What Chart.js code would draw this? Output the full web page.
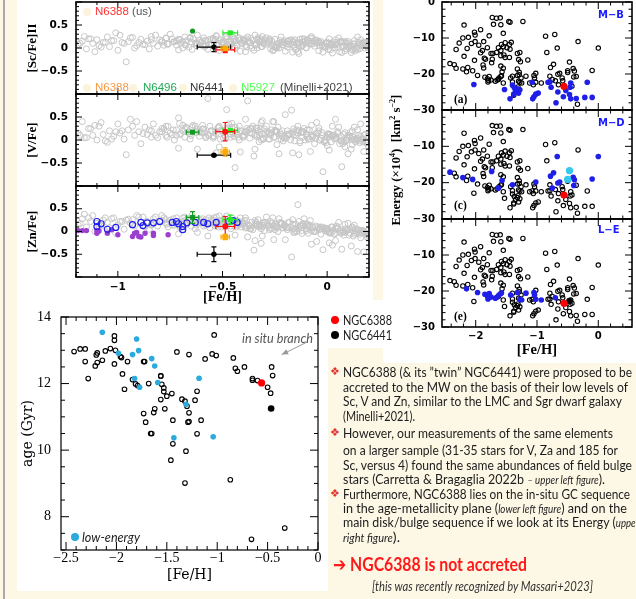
<!DOCTYPE html>
<html>
<head>
<meta charset="utf-8">
<title>NGC6388</title>
<script src="https://cdn.jsdelivr.net/npm/chart.js@4.4.1/dist/chart.umd.min.js"></script>
<style>
  body { margin: 0; width: 636px; height: 599px; background: #fdf7e6; position: relative; overflow: hidden; }
  canvas { position: absolute; }
  .box { position: absolute; background: #fff; }
  .t { position: absolute; white-space: nowrap; }
  .ln { position: absolute; white-space: nowrap; font-family: Lato, sans-serif; font-size: 13.5px; color: #1c1c1c; line-height: 16px; transform-origin: 0 50%; }
  .ln i { font-size: 10.5px; }
  .bul { position: absolute; color: #e2332b; font-family: 'DejaVu Sans'; font-size: 11px; line-height: 16px; }
  .dot { position: absolute; border-radius: 50%; }
  sup { font-size: 8px; line-height: 0; }
</style>
</head>
<body>
<div style="position:absolute;left:3px;top:0;width:2px;height:599px;background:#a9a9a9"></div>
<div class="box" style="left:17px;top:0;width:356px;height:306px"></div>
<div class="box" style="left:383px;top:0;width:253px;height:363px"></div>
<div class="box" style="left:17px;top:306px;width:311px;height:285px"></div>
<div class="box" style="left:328px;top:300px;width:62px;height:48px"></div>

<canvas id="cSc"></canvas>
<canvas id="cV"></canvas>
<canvas id="cZn"></canvas>
<canvas id="cMB"></canvas>
<canvas id="cMD"></canvas>
<canvas id="cLE"></canvas>
<canvas id="cAge"></canvas>

<div class="dot" style="left:83px;top:8px;width:8px;height:8px;background:#fbf3dc"></div>
<div class="dot" style="left:83px;top:84px;width:8px;height:8px;background:#fbf3dc"></div>
<div class="dot" style="left:129px;top:84px;width:8px;height:8px;background:#fbf3dc"></div>
<div class="dot" style="left:179px;top:84px;width:8px;height:8px;background:#fbf3dc"></div>
<div class="dot" style="left:229px;top:84px;width:8px;height:8px;background:#fbf3dc"></div>
<div class="t" style="left:95px;top:5px;font:11.5px 'Liberation Sans';color:#555"><span style="color:#ff3333">N6388</span> (us)</div>
<div class="t" style="left:95px;top:81px;font:11.5px 'Liberation Sans';color:#f59a45">N6388</div>
<div class="t" style="left:143px;top:81px;font:11.5px 'Liberation Sans';color:#22aa55">N6496</div>
<div class="t" style="left:190px;top:81px;font:11.5px 'Liberation Sans';color:#333">N6441</div>
<div class="t" style="left:241px;top:81px;font:11.5px 'Liberation Sans';color:#55ff55">N5927</div>
<div class="t" style="left:280px;top:81px;font:11.5px 'Liberation Sans';color:#444">(Minelli+2021)</div>

<div class="t" style="left:396px;top:160px;transform:translate(-50%,-50%) rotate(-90deg);font:bold 13px 'Liberation Serif';color:#000">Energy (×10<sup>4</sup>)&nbsp; [km<sup>2</sup> s<sup>−2</sup>]</div>
<div class="t" style="left:598px;top:9px;font:bold 10px 'DejaVu Sans';color:#1a1aff">M−B</div>
<div class="t" style="left:598px;top:117px;font:bold 10px 'DejaVu Sans';color:#1a1aff">M−D</div>
<div class="t" style="left:598px;top:224px;font:bold 10px 'DejaVu Sans';color:#1a1aff">L−E</div>
<div class="t" style="left:454px;top:93px;font:bold 11.5px 'Liberation Serif';color:#000">(a)</div>
<div class="t" style="left:454px;top:199px;font:bold 11.5px 'Liberation Serif';color:#000">(c)</div>
<div class="t" style="left:454px;top:310px;font:bold 11.5px 'Liberation Serif';color:#000">(e)</div>

<div class="t ln" data-w="71" style="left:242px;top:330px;font-style:italic;font-size:13px;color:#555">in situ branch</div>
<div class="dot" style="left:71px;top:533px;width:8px;height:8px;background:#2aaadd"></div>
<div class="t ln" data-w="58" style="left:82px;top:529px;font-style:italic;font-size:13px;color:#222">low-energy</div>
<div class="dot" style="left:331px;top:316px;width:8px;height:8px;background:#ff0000"></div>
<div class="t ln" data-w="49" style="left:343px;top:312px;font-size:13px">NGC6388</div>
<div class="dot" style="left:331px;top:331px;width:8px;height:8px;background:#000"></div>
<div class="t ln" data-w="49" style="left:343px;top:327px;font-size:13px">NGC6441</div>

<div class="bul" style="left:330px;top:364px">❖</div>
<div class="bul" style="left:330px;top:424.5px">❖</div>
<div class="bul" style="left:330px;top:485.5px">❖</div>
<div class="ln" data-w="289" style="left:343px;top:364px">NGC6388 (&amp; its ”twin” NGC6441) were proposed to be</div>
<div class="ln" data-w="285" style="left:343px;top:378.5px">accreted to the MW on the basis of their low levels of</div>
<div class="ln" data-w="279" style="left:343px;top:393px">Sc, V and Zn, similar to the LMC and Sgr dwarf galaxy</div>
<div class="ln" data-w="72" style="left:343px;top:407.5px">(Minelli+2021).</div>
<div class="ln" data-w="270" style="left:343px;top:424.5px">However, our measurements of the same elements</div>
<div class="ln" data-w="275" style="left:343px;top:442px">on a larger sample (31-35 stars for V, Za and 185 for</div>
<div class="ln" data-w="289" style="left:343px;top:457px">Sc, versus 4) found the same abundances of field bulge</div>
<div class="ln" data-w="262" style="left:343px;top:471px">stars (Carretta &amp; Bragaglia 2022b <i>– upper left figure</i>).</div>
<div class="ln" data-w="287" style="left:343px;top:485.5px">Furthermore, NGC6388 lies on the in-situ GC sequence</div>
<div class="ln" data-w="284" style="left:343px;top:500px">in the age-metallicity plane (<i>lower left figure</i>) and on the</div>
<div class="ln" data-w="296" style="left:343px;top:514px">main disk/bulge sequence if we look at its Energy (<i>upper</i></div>
<div class="ln" data-w="57" style="left:343px;top:529px"><i>right figure</i>).</div>
<div class="ln" data-w="194" style="left:333px;top:552px;font-size:19px;line-height:24px;font-weight:bold;color:#ff1a1a"><span style="font-family:'DejaVu Sans'">➔</span> NGC6388 is not accreted</div>
<div class="ln" data-w="221" style="left:372px;top:579px;font-size:12.5px;font-style:italic;color:#333">[this was recently recognized by Massari+2023]</div>

<script>
// ---- field bulge stars (grey), shared [Fe/H] ----
var fieldFeh = [
  -1.19,-1.17,-1.15,-1.13,-1.12,-1.10,-1.09,-1.07,-1.05,-1.04,-1.02,-1.00,-0.99,-0.97,-0.95,-0.94,-0.92,-0.90,-0.89,-0.87,
  -0.86,-0.84,-0.83,-0.81,-0.80,-0.79,-0.77,-0.76,-0.75,-0.73,-0.72,-0.71,-0.70,-0.68,-0.67,-0.66,-0.65,-0.64,-0.62,-0.61,
  -0.60,-0.59,-0.58,-0.57,-0.56,-0.55,-0.54,-0.53,-0.52,-0.51,-0.50,-0.49,-0.48,-0.47,-0.46,-0.45,-0.44,-0.43,-0.42,-0.41,
  -0.40,-0.39,-0.385,-0.37,-0.36,-0.355,-0.34,-0.33,-0.325,-0.31,-0.30,-0.295,-0.28,-0.27,-0.265,-0.25,-0.24,-0.235,-0.22,-0.21,
  -0.205,-0.19,-0.18,-0.175,-0.16,-0.15,-0.145,-0.13,-0.12,-0.115,-0.10,-0.09,-0.085,-0.07,-0.06,-0.055,-0.04,-0.03,-0.025,-0.01,
  0.00,0.005,0.02,0.03,0.035,0.05,0.06,0.065,0.08,0.09,0.095,0.11,0.12,0.125,0.14,0.15,0.155,0.17,0.18,0.19,
  -0.78,-0.74,-0.69,-0.63,-0.585,-0.545,-0.505,-0.465,-0.425,-0.395,-0.365,-0.335,-0.305,-0.275,-0.245,-0.215,-0.185,-0.155,-0.125,-0.095,
  -0.065,-0.035,-0.005,0.015,0.045,0.075,0.105,0.135,0.165,0.195,-0.48,-0.38,-0.29,-0.20,-0.11,-0.02,0.07,0.16,-0.57,-0.35,
  -0.44,-0.26,-0.14,-0.08,0.04,0.10,-0.53,-0.31,-0.17,0.01,0.13,-0.62,-0.23,-0.05,0.085,-0.39,-0.135,0.025,0.175,-0.71,
  -1.16,-1.11,-1.06,-1.01,-0.96,-0.91,-0.85,-0.82,-0.645,-0.515,-0.455,-0.345,-0.255,-0.165,-0.075,0.055,0.115,0.145,-0.415,-0.315,
  -0.79,-0.765,-0.735,-0.705,-0.675,-0.655,-0.625,-0.595,-0.565,-0.535,-0.495,-0.475,-0.435,-0.405,-0.375,-0.345,-0.315,-0.285,-0.255,-0.225,
  -0.195,-0.165,-0.135,-0.105,-0.075,-0.045,-0.015,0.01,0.04,0.07,0.10,0.13,0.16,0.185,-0.77,-0.72,-0.68,-0.61,-0.58,-0.52,
  -0.46,-0.43,-0.40,-0.37,-0.34,-0.31,-0.28,-0.25,-0.22,-0.19,-0.16,-0.13,-0.10,-0.07,-0.04,-0.01,0.02,0.05,0.08,0.11,
  0.14,0.17,0.195,-0.555,-0.515,-0.445,-0.385,-0.325,-0.265,-0.205,-0.145,-0.085,-0.025,0.035,0.095,0.155,-0.655,-0.595,-0.485,-0.365,
  -0.305,-0.245,-0.185,-0.115,-0.055,0.005,0.065,0.125,0.175,-0.705,-0.625,-0.545,-0.455,-0.395,-0.335,-0.275,-0.215,-0.155,-0.095,-0.035,
  0.025,0.085,0.145,0.19,-1.18,-1.14,-1.08,-1.03,-0.98,-0.93,-0.88,-0.84,-0.69,-0.50,-0.42,-0.32,-0.24,-0.12,0.00,0.12
];
var fieldSc = [
  0.08,0.15,-0.02,0.20,0.10,0.18,0.05,0.12,0.24,0.03,0.16,-0.05,0.28,0.10,0.14,0.22,0.00,0.12,0.19,0.07,
  0.15,0.25,0.10,0.04,0.18,0.13,0.21,0.08,0.30,0.14,0.06,0.19,0.11,0.24,0.16,0.02,0.13,0.20,0.09,0.17,
  0.12,0.22,0.05,0.16,0.19,0.09,0.14,0.25,0.07,0.18,0.11,0.02,0.20,0.13,0.08,0.23,0.15,0.04,0.17,0.10,
  0.14,0.06,0.20,0.11,0.00,0.16,0.09,0.22,0.13,0.03,0.18,0.08,0.12,-0.02,0.15,0.19,0.05,0.10,0.24,0.07,
  0.12,0.02,0.17,0.08,0.14,-0.04,0.10,0.19,0.05,0.13,0.00,0.16,0.09,0.21,0.04,0.11,-0.06,0.14,0.07,0.02,
  0.10,-0.03,0.06,0.13,0.01,0.08,-0.08,0.15,0.04,-0.01,0.11,0.05,-0.05,0.09,0.02,0.12,-0.02,0.06,0.00,0.08,
  0.06,0.20,0.14,0.10,0.03,0.18,0.12,0.07,0.21,0.15,0.05,0.19,0.10,0.16,0.01,0.13,0.08,0.18,0.03,0.11,
  0.15,0.04,0.10,-0.04,0.12,0.03,0.07,-0.06,0.10,0.01,0.26,0.24,0.22,-0.07,0.20,-0.09,-0.10,0.18,-0.03,-0.05,
  0.00,-0.06,-0.08,0.22,0.18,0.14,0.27,0.25,0.18,0.20,0.16,0.28,0.00,0.17,-0.06,-0.08,-0.12,-0.11,0.13,-0.04,
  0.25,-0.08,0.12,0.33,-0.30,0.05,-0.02,0.28,-0.03,-0.05,0.30,0.28,-0.04,-0.09,0.25,0.22,-0.10,0.24,-0.07,0.03,
  0.16,0.09,0.13,0.18,0.06,0.21,0.11,0.15,0.08,0.19,0.13,0.05,0.17,0.10,0.14,0.07,0.20,0.12,0.03,0.16,
  0.09,0.13,0.05,0.15,0.08,0.12,0.02,0.10,0.07,0.13,0.03,0.09,0.05,0.11,0.22,0.15,0.07,0.12,0.17,0.10,
  0.15,0.07,0.19,0.12,0.06,0.14,0.17,0.04,0.11,0.15,0.06,0.12,0.01,0.09,0.14,0.04,0.10,0.01,0.12,0.04,
  -0.01,0.07,0.04,0.09,0.16,0.20,0.02,0.17,0.05,0.16,0.11,0.14,0.06,0.07,0.03,0.09,0.23,0.05,0.24,0.21,
  0.10,0.02,0.15,0.06,0.16,0.04,0.13,-0.03,0.10,0.18,0.05,0.21,0.02,0.18,0.00,0.20,0.07,0.01,0.18,0.11,
  0.08,0.14,-0.03,0.06,0.10,0.20,0.02,0.16,0.12,0.23,0.08,0.18,0.00,0.06,0.22,0.14,0.00,0.20,0.13,0.04
];
var fieldV = [
  0.15,0.40,0.05,0.25,0.10,0.00,0.30,0.12,-0.05,0.20,0.08,0.35,0.15,0.02,0.22,0.45,0.10,0.18,-0.08,0.28,
  0.12,0.20,0.35,0.05,0.18,0.25,0.10,0.30,0.15,0.00,0.22,0.48,0.14,0.06,0.26,0.18,0.10,0.32,0.20,0.08,
  0.16,0.24,0.05,0.12,0.30,0.20,0.08,0.14,0.26,0.02,0.18,0.10,0.22,0.35,0.06,0.15,0.28,0.12,0.00,0.20,
  0.10,0.18,0.25,0.04,0.14,0.30,0.08,0.20,-0.04,0.12,0.24,0.16,0.02,0.10,0.22,0.06,0.18,0.28,0.12,-0.02,
  0.08,0.20,0.14,0.00,0.24,0.10,0.16,-0.06,0.06,0.18,0.12,0.02,0.22,0.08,-0.08,0.14,0.26,0.04,0.10,-0.02,
  0.06,0.14,-0.04,0.10,0.02,0.18,-0.08,0.08,0.12,-0.02,0.04,0.16,-0.10,0.06,0.00,0.10,-0.06,0.02,0.12,-0.04,
  0.25,0.12,0.20,0.30,0.16,0.08,0.22,0.14,0.06,0.18,0.26,0.10,0.02,0.15,0.20,0.08,0.12,-0.02,0.16,0.06,
  0.10,0.00,-0.06,0.12,0.04,-0.08,0.08,-0.04,0.02,-0.12,0.66,0.85,0.30,0.55,0.25,-0.69,-0.58,0.35,0.90,-0.35,
  -0.60,0.40,0.30,-0.25,0.45,-0.30,-0.28,0.42,0.65,-0.22,0.28,-0.20,-0.30,0.38,-0.15,0.45,-0.32,0.30,-0.25,-0.18,
  0.05,0.32,-0.02,0.18,-0.32,0.40,0.22,0.10,0.28,-0.15,0.36,-0.20,0.40,-0.28,0.32,0.28,-0.20,0.22,-0.26,0.38,
  0.18,0.06,0.22,0.12,0.28,0.02,0.16,0.24,0.10,0.20,0.04,0.26,0.14,0.08,0.22,0.12,0.00,0.18,0.06,0.16,
  0.04,0.14,0.20,0.00,0.10,0.16,-0.04,0.12,0.06,-0.02,0.10,0.02,0.08,-0.06,0.30,0.10,0.24,0.18,0.08,0.28,
  0.12,0.22,0.06,0.16,0.26,0.04,0.14,0.20,0.02,0.12,0.18,-0.02,0.14,0.06,0.20,0.00,0.08,0.14,-0.04,0.06,
  0.02,-0.04,0.08,0.20,0.30,0.08,0.18,0.10,0.16,0.04,0.22,0.02,0.16,0.10,0.00,-0.02,0.14,0.32,0.06,0.24,
  0.02,0.20,0.10,0.18,0.04,0.12,-0.02,0.00,0.10,0.36,0.24,0.04,0.28,0.10,0.26,0.02,0.20,0.12,0.22,0.00,
  0.10,0.16,0.04,-0.06,0.10,0.25,0.38,0.02,0.20,0.30,0.14,0.06,0.32,0.20,0.30,0.24,-0.10,0.18,-0.12,0.20
];
var fieldZn = [
  0.15,0.28,0.10,0.22,0.35,0.18,0.12,0.25,0.20,0.08,0.30,0.15,0.22,0.05,0.27,0.18,0.12,0.32,0.20,0.10,
  0.22,0.15,0.28,0.12,0.20,0.35,0.18,0.10,0.25,0.14,0.30,0.20,0.08,0.24,0.16,0.28,0.12,0.22,0.18,0.26,
  0.20,0.12,0.26,0.18,0.08,0.22,0.30,0.15,0.10,0.24,0.18,0.28,0.12,0.20,0.06,0.16,0.25,0.14,0.22,0.10,
  0.18,0.08,0.24,0.12,0.20,0.04,0.16,0.26,0.10,0.14,0.02,0.20,0.12,0.22,0.06,0.16,0.10,0.00,0.18,0.08,
  0.14,0.04,0.20,0.10,-0.02,0.16,0.08,0.12,0.02,0.18,0.06,-0.04,0.14,0.08,0.00,0.12,0.04,-0.06,0.10,0.02,
  0.06,-0.02,0.10,0.02,-0.06,0.08,0.00,0.04,-0.08,0.06,0.02,-0.04,0.08,-0.10,0.00,0.04,-0.06,0.02,-0.02,-0.12,
  0.30,0.14,0.22,0.06,0.18,0.26,0.10,0.20,0.14,0.24,0.06,0.12,0.18,0.04,0.16,0.08,0.20,0.02,0.12,0.16,
  0.00,0.10,0.06,-0.04,0.12,0.00,-0.08,0.06,-0.02,0.02,0.34,-0.12,0.32,-0.18,0.28,-0.40,-0.39,-0.14,-0.10,-0.41,
  -0.08,0.30,0.59,0.24,-0.20,0.18,0.32,-0.10,-0.56,-0.25,0.14,-0.02,0.28,-0.22,0.16,0.30,0.22,-0.30,-0.45,-0.05,
  0.38,0.00,0.30,-0.04,0.25,0.35,0.05,0.32,0.36,0.34,0.30,-0.20,-0.18,0.26,-0.28,0.20,-0.32,-0.44,0.30,-0.26,
  0.24,0.16,0.28,0.10,0.20,0.26,0.14,0.22,0.30,0.12,0.18,0.24,0.10,0.20,0.14,0.24,0.06,0.18,0.12,0.20,
  0.08,0.16,0.06,0.12,0.02,0.10,0.06,0.00,0.08,-0.02,0.04,-0.06,0.02,-0.04,0.26,0.18,0.32,0.20,0.14,0.22,
  0.12,0.22,0.16,0.06,0.20,0.10,0.14,0.04,0.16,0.10,0.06,0.12,0.02,0.10,0.04,0.08,-0.02,0.06,0.00,0.04,
  -0.04,0.02,-0.08,0.26,0.16,0.20,0.08,0.14,0.18,0.12,0.00,0.10,0.06,-0.04,0.02,-0.02,0.22,0.28,0.16,0.06,
  0.20,0.12,0.08,0.14,0.00,0.06,-0.04,0.02,0.00,0.14,0.26,0.18,0.22,0.12,0.16,0.08,0.18,-0.02,0.12,0.06,
  0.10,-0.02,0.04,-0.08,0.18,0.30,0.12,0.28,0.22,0.26,0.32,0.14,0.30,0.24,0.16,0.14,0.08,-0.04,0.02,0.10
];
// LMC-like (blue open) and Sgr-like (purple) Zn
var lmcFeh = [-1.10,-1.10,-1.08,-1.05,-1.01,-0.93,-0.89,-0.88,-0.86,-0.83,-0.80,-0.74,-0.72,-0.71,-0.69,-0.69,-0.67,-0.63,-0.59,-0.57,-0.53,-0.47,-0.45,-0.43];
var lmcZn = [0.22,0.11,0.17,0.05,0.09,0.15,0.20,0.13,0.19,0.19,0.22,0.20,0.22,0.17,0.11,0.04,0.19,0.20,0.20,0.17,0.20,0.22,0.24,0.20];
var sgrFeh = [-1.19,-1.17,-1.15,-1.10,-1.10,-1.09,-1.05,-1.03,-1.00,-0.93,-0.92,-0.91,-0.90,-0.89,-0.87,-0.83,-0.83,-0.76];
var sgrZn = [0.02,0.02,0.02,0.02,-0.04,0.01,-0.04,0.04,-0.07,-0.11,-0.04,-0.02,-0.11,-0.12,-0.04,-0.04,-0.09,-0.07];

// clusters: N6496, N5927, N6441, N6388 (Minelli+2021), N6388 (us)
var clNames = ['N6496', 'N5927', 'N6441', 'N6388 M21', 'N6388 us'];
var clColors = ['#119922', '#22ee22', '#000000', '#ffaa00', '#ff1111'];
var clFeh = [-0.643, -0.463, -0.541, -0.487, -0.487];
var clXerr = [0.03, 0.035, 0.08, 0.02, 0.045];
var scCl = [0.37, 0.33, 0.02, -0.01, -0.04];
var scErr = [0, 0.02, 0.10, 0.03, 0.06];
var vCl = [0.17, 0.21, -0.33, -0.26, 0.18];
var vErr = [0.03, 0.03, 0.02, 0.09, 0.20];
var znCl = [0.31, 0.26, -0.50, -0.12, 0.11];
var znErr = [0.13, 0.10, 0.16, 0.06, 0.22];
var abTicksX = [-1, -0.5, 0];
var abTicksY = [0.5, 0, -0.5];

// ---- orbital energy of globular clusters ----
var eBaseFeh = [-2.35,-2.32,-2.32,-2.27,-2.19,-2.21,-2.14,-2.12,-2.19,-2.13,-2.02,-2.01,-2.07,-2.01,-2.02,-1.95,-1.92,-1.92,-1.89,-1.87,
  -1.88,-1.87,-1.86,-1.84,-1.81,-1.78,-1.75,-1.72,-1.73,-1.71,-1.66,-1.73,-1.66,-1.63,-1.59,-1.59,-1.60,-1.55,-1.55,-1.58,
  -1.52,-1.49,-1.45,-1.44,-1.42,-1.59,-1.54,-1.46,-1.44,-1.52,-1.45,-1.59,-1.55,-1.55,-1.40,-1.38,-1.32,-1.28,-1.30,-1.27,
  -1.32,-1.29,-1.29,-1.26,-1.30,-1.31,-1.23,-1.15,-1.12,-1.06,-0.86,-0.84,-0.71,-0.79,-0.65,-0.59,-0.58,-0.50,-0.36,-0.33,-0.34,-0.43];
var eBaseE = [-17.4,-18.4,-13.2,-11.4,-6.4,-10.0,-12.9,-9.8,-15.1,-18.2,-8.4,-9.2,-11.5,-11.0,-16.2,-12.0,-7.7,-14.1,-13.5,-11.0,
  -17.5,-18.3,-15.6,-15.9,-12.7,-9.4,-14.3,-14.3,-4.3,-6.2,-4.5,-15.9,-14.0,-12.7,-13.5,-6.3,-4.4,-8.7,-12.4,-11.8,
  -11.3,-12.7,-11.8,-13.1,-11.2,-14.9,-14.7,-5.4,-5.6,-15.4,-15.4,-17.8,-18.4,-22.5,-22.2,-25.9,-14.3,-14.0,-16.0,-16.6,
  -18.6,-19.5,-20.2,-21.1,-22.0,-23.6,-5.4,-16.1,-22.5,-23.0,-9.5,-14.0,-9.0,-20.6,-23.0,-21.1,-21.9,-19.6,-20.7,-11.0,-28.4,-23.4];
var mbFeh = [-2.03,-1.53,-1.44,-1.40,-1.37,-1.35,-1.32,-1.30,-1.28,-1.38,-1.08,-1.07,-1.05,-1.02,-0.98,-0.82,-0.79,-0.77,-0.66,-0.69,
  -0.53,-0.46,-0.45,-0.57,-0.47,-0.45,-0.36,-0.22,-0.18,-0.10];
var mbE = [-22.9,-24.3,-26.9,-23.1,-23.8,-24.6,-24.1,-25.3,-24.4,-25.6,-22.3,-26.9,-26.3,-25.6,-25.3,-22.3,-22.2,-23.7,-25.0,-28.0,
  -24.6,-23.7,-22.5,-26.3,-25.7,-26.9,-26.8,-26.5,-22.3,-26.5];
var mdFeh = [-2.42,-2.21,-2.05,-1.74,-1.63,-1.57,-1.40,-1.02,-0.78,-0.73,-0.67,-0.75,-0.66,-0.63,-0.41,-0.39,-0.40,-0.10,0.00];
var mdE = [-17.1,-18.6,-19.1,-16.9,-21.5,-19.4,-20.6,-19.8,-18.2,-17.3,-12.8,-21.5,-20.1,-19.8,-18.5,-19.2,-20.8,-19.0,-12.8];
var cyFeh = [-0.47, -0.50];
var cyE = [-16.7, -19.1];
var leFeh = [-2.15,-1.97,-1.85,-1.81,-1.79,-1.78,-1.80,-1.75,-1.68,-1.65,-1.62,-1.59,-1.58,-1.43,-1.32,-1.28,-1.25,-1.18,-1.05,-1.04,-1.02,-0.93,-0.70];
var leE = [-19.4,-20.4,-20.9,-21.3,-21.8,-20.7,-22.2,-21.7,-22.0,-21.7,-21.1,-20.7,-20.5,-21.1,-20.4,-22.3,-22.5,-20.6,-20.4,-21.1,-22.3,-22.5,-21.9];
var n6388Feh = [-0.56], n6388E = [-23.4], n6388Age = [12.02];
var n6441Feh = [-0.47], n6441E = [-22.8];
var n6441AgeFeh = [-0.465], n6441Age = [11.25];
var eTicksX = [-2, -1, 0];
var eTicksTop = [0, -10, -20, -30];
var eTicks = [-10, -20, -30];

// ---- age-metallicity ----
var ageFeh = [-2.42,-2.36,-2.31,-2.31,-2.28,-2.21,-2.20,-2.19,-2.19,-2.14,-2.11,-2.06,-2.02,-2.02,-2.01,-2.02,-1.96,-1.95,-1.94,-1.92,
  -1.89,-1.84,-1.81,-1.79,-1.73,-1.72,-1.73,-1.71,-1.68,-1.66,-1.65,-1.63,-1.62,-1.56,-1.56,-1.55,-1.53,-1.53,-1.52,-1.56,
  -1.50,-1.45,-1.44,-1.44,-1.46,-1.40,-1.35,-1.32,-1.30,-1.28,-1.29,-1.28,-1.31,-1.32,-1.28,-1.22,-1.20,-1.20,-1.16,-1.12,
  -1.05,-1.03,-1.01,-0.87,-0.84,-0.82,-0.80,-0.73,-0.65,-0.65,-0.60,-0.50,-0.47,-0.46,-0.45,-0.66,-0.33];
var ageGyr = [12.96,13.04,13.04,12.66,12.15,12.53,12.86,12.92,12.63,12.70,12.98,13.05,13.43,13.30,13.00,12.59,12.81,12.78,12.29,11.83,
  12.66,12.12,11.99,11.94,12.66,12.66,11.10,10.84,12.00,10.50,10.50,11.13,11.24,12.23,12.23,11.98,11.87,11.76,11.24,11.52,
  11.62,11.70,10.90,10.19,9.70,12.95,11.53,11.47,11.32,11.12,10.84,10.86,9.97,9.01,12.87,11.50,11.77,10.49,10.90,12.74,
  12.89,13.46,12.84,9.11,12.77,12.46,12.37,12.50,12.15,12.10,12.09,11.89,11.71,12.50,12.24,7.32,7.66];
var leAgeFeh = [-2.14,-1.80,-1.78,-1.84,-1.98,-1.65,-1.62,-1.82,-1.77,-1.59,-1.18,-1.31,-1.43,-1.04];
var leAgeGyr = [13.54,13.34,12.99,12.87,12.91,12.75,12.53,12.15,11.89,12.03,12.16,11.38,10.37,10.40];
var ageTicksX = [-2.5, -2, -1.5, -1, -0.5, 0];
var ageTicksY = [14, 12, 10, 8];

// ---------------------------------------------------------------
function pts(xs, ys) {
  return xs.map(function (v, i) { return {x: v, y: ys[i]}; });
}
function openSet(xs, ys, color, r, lw) {
  return {data: pts(xs, ys), pointStyle: 'circle', pointRadius: r, borderColor: color,
          backgroundColor: 'rgba(0,0,0,0)', borderWidth: lw || 1};
}
function fillSet(xs, ys, color, r, style) {
  return {data: pts(xs, ys), pointStyle: style || 'circle', pointRadius: r, borderColor: color,
          backgroundColor: color, borderWidth: 0};
}
function fmt(v) {
  return v < 0 ? '\u2212' + (-v) : '' + Math.abs(v);
}
function isMult(v, m) {
  return Math.abs(v / m - Math.round(v / m)) < 1e-6;
}
function steps(min, max, step) {
  var out = [];
  var k0 = Math.ceil(min / step - 1e-9), k1 = Math.floor(max / step + 1e-9);
  for (var k = k0; k <= k1; k++) out.push(k * step);
  return out;
}

// inward ticks on all four sides + frame (+ optional arrow)
var framePlugin = {
  id: 'frame',
  afterDraw: function (chart) {
    var o = chart.$frame;
    if (!o) return;
    var ctx = chart.ctx, a = chart.chartArea, x = chart.scales.x, y = chart.scales.y;
    ctx.save();
    if (o.arrow) {
      var p0x = x.getPixelForValue(o.arrow[0]), p0y = y.getPixelForValue(o.arrow[1]);
      var p1x = x.getPixelForValue(o.arrow[2]), p1y = y.getPixelForValue(o.arrow[3]);
      var ang = Math.atan2(p1y - p0y, p1x - p0x);
      ctx.strokeStyle = '#999'; ctx.fillStyle = '#999'; ctx.lineWidth = 1;
      ctx.beginPath(); ctx.moveTo(p0x, p0y); ctx.lineTo(p1x, p1y); ctx.stroke();
      ctx.beginPath(); ctx.moveTo(p1x, p1y);
      ctx.lineTo(p1x - 7 * Math.cos(ang - 0.4), p1y - 7 * Math.sin(ang - 0.4));
      ctx.lineTo(p1x - 7 * Math.cos(ang + 0.4), p1y - 7 * Math.sin(ang + 0.4));
      ctx.closePath(); ctx.fill();
    }
    ctx.strokeStyle = '#000';
    ctx.lineWidth = 1;
    ctx.beginPath();
    steps(x.min, x.max, o.xStep).forEach(function (v) {
      var p = x.getPixelForValue(v), l = isMult(v, o.xMajor) ? o.maj : o.mnr;
      ctx.moveTo(p, a.bottom); ctx.lineTo(p, a.bottom - l);
      ctx.moveTo(p, a.top); ctx.lineTo(p, a.top + l);
    });
    steps(y.min, y.max, o.yStep).forEach(function (v) {
      var p = y.getPixelForValue(v), l = isMult(v, o.yMajor) ? o.maj : o.mnr;
      ctx.moveTo(a.left, p); ctx.lineTo(a.left + l, p);
      ctx.moveTo(a.right, p); ctx.lineTo(a.right - l, p);
    });
    ctx.stroke();
    ctx.lineWidth = o.lw;
    ctx.strokeRect(a.left, a.top, a.right - a.left, a.bottom - a.top);
    ctx.restore();
  }
};

// error bars drawn just before their own markers
var errPlugin = {
  id: 'err',
  beforeDatasetDraw: function (chart, args) {
    var ds = chart.data.datasets[args.index];
    if (!ds || (!ds.xerr && !ds.yerr)) return;
    var ctx = chart.ctx, x = chart.scales.x, y = chart.scales.y, c = 2.5;
    ctx.save();
    ctx.strokeStyle = ds.borderColor;
    ctx.lineWidth = 1.2;
    ctx.beginPath();
    ds.data.forEach(function (p, i) {
      var px = x.getPixelForValue(p.x), py = y.getPixelForValue(p.y);
      if (ds.xerr && ds.xerr[i]) {
        var a = x.getPixelForValue(p.x - ds.xerr[i]), b = x.getPixelForValue(p.x + ds.xerr[i]);
        ctx.moveTo(a, py); ctx.lineTo(b, py);
        ctx.moveTo(a, py - c); ctx.lineTo(a, py + c);
        ctx.moveTo(b, py - c); ctx.lineTo(b, py + c);
      }
      if (ds.yerr && ds.yerr[i]) {
        var t = y.getPixelForValue(p.y + ds.yerr[i]), u = y.getPixelForValue(p.y - ds.yerr[i]);
        ctx.moveTo(px, t); ctx.lineTo(px, u);
        ctx.moveTo(px - c, t); ctx.lineTo(px + c, t);
        ctx.moveTo(px - c, u); ctx.lineTo(px + c, u);
      }
    });
    ctx.stroke();
    ctx.restore();
  }
};

// box = [left, top, width, height] of the canvas, area = [x0, y0, x1, y1] of the plot frame (page px)
function scatter(id, box, area, layers, xr, yr, cfg) {
  var cv = document.getElementById(id);
  cv.width = box[2]; cv.height = box[3];
  cv.style.left = box[0] + 'px'; cv.style.top = box[1] + 'px';
  var yW = area[0] - box[0];
  var xH = box[1] + box[3] - area[3];
  var ch = new Chart(cv, {
    type: 'scatter',
    data: {datasets: layers.slice().reverse()},
    plugins: [errPlugin, framePlugin],
    options: {
      responsive: false,
      animation: false,
      events: [],
      layout: {padding: {left: 0, top: area[1] - box[1], right: box[0] + box[2] - area[2], bottom: 0}, autoPadding: false},
      plugins: {legend: {display: false}, tooltip: {enabled: false}},
      scales: {
        x: {
          type: 'linear', min: xr[0], max: xr[1],
          afterBuildTicks: function (s) { s.ticks = cfg.xTicks.map(function (v) { return {value: v}; }); },
          afterFit: function (s) { s.height = xH; s.paddingLeft = 0; s.paddingRight = 0; },
          grid: {display: false, drawTicks: false}, border: {display: false},
          ticks: {display: !!cfg.xLabels, font: cfg.font, color: '#000', padding: cfg.xPad || 0,
                  autoSkip: false, maxRotation: 0, callback: fmt},
          title: cfg.xTitle || {display: false}
        },
        y: {
          type: 'linear', min: yr[0], max: yr[1],
          afterBuildTicks: function (s) { s.ticks = cfg.yTicks.map(function (v) { return {value: v}; }); },
          afterFit: function (s) { s.width = yW; s.paddingTop = 0; s.paddingBottom = 0; },
          grid: {display: false, drawTicks: false}, border: {display: false},
          ticks: {font: cfg.font, color: '#000', padding: cfg.yPad, autoSkip: false, callback: fmt},
          title: cfg.yTitle || {display: false}
        }
      }
    }
  });
  ch.$frame = cfg.frame;
  ch.draw();
  return ch;
}

// ---- abundance panels ----
var abFont = {family: 'DejaVu Sans', weight: 'bold', size: 10.5};
var abFrame = {xStep: 0.1, xMajor: 0.5, yStep: 0.1, yMajor: 0.5, maj: 6, mnr: 3, lw: 1.6};
function yTitle(text) {
  return {display: true, text: text, color: '#000', font: {family: 'Liberation Serif', weight: 'bold', size: 13}, padding: {top: 7, bottom: 0}};
}
function clusterLayers(vals, errs, xerrs, firstStyle) {
  var out = [];
  var styles = [firstStyle, 'rect', 'circle', 'rect', 'circle'];
  var radii = [firstStyle === 'rect' ? 3.5 : 2.6, 3.5, 2.7, 4, 3];
  [0, 1, 2, 4, 3].forEach(function (i) {
    var d = fillSet([clFeh[i]], [vals[i]], clColors[i], radii[i], styles[i]);
    d.label = clNames[i];
    d.xerr = [xerrs[i]];
    d.yerr = [errs[i]];
    out.push(d);
  });
  return out;
}
var grey = '#c6c6c6';

scatter('cSc', [18, 0, 356, 96], [76, 2, 369, 94],
  [openSet(fieldFeh, fieldSc, grey, 3)].concat(clusterLayers(scCl, scErr, [0, 0.035, 0.08, 0.02, 0.045], 'circle')),
  [-1.2, 0.2], [-1, 1],
  {frame: abFrame, font: abFont, xTicks: abTicksX, yTicks: abTicksY, yPad: 8, yTitle: yTitle('[Sc/Fe]II')});

scatter('cV', [18, 90, 356, 100], [76, 94, 369, 186],
  [openSet(fieldFeh, fieldV, grey, 3)].concat(clusterLayers(vCl, vErr, clXerr, 'rect')),
  [-1.2, 0.2], [-1, 1],
  {frame: abFrame, font: abFont, xTicks: abTicksX, yTicks: abTicksY, yPad: 8, yTitle: yTitle('[V/Fe]')});

scatter('cZn', [18, 182, 356, 124], [76, 186, 369, 277],
  [openSet(fieldFeh, fieldZn, grey, 3),
   fillSet(sgrFeh, sgrZn, '#9b3fcf', 2.7),
   openSet(lmcFeh, lmcZn, '#1e1ef0', 3, 1.2)].concat(clusterLayers(znCl, znErr, clXerr, 'rect')),
  [-1.2, 0.2], [-1, 1],
  {frame: abFrame, font: abFont, xTicks: abTicksX, yTicks: abTicksY, yPad: 8, xLabels: true, xPad: 4,
   yTitle: yTitle('[Zn/Fe]'),
   xTitle: {display: true, text: '[Fe/H]', color: '#000', font: {family: 'Liberation Serif', weight: 'bold', size: 14}, padding: {top: 0, bottom: 0}}});

// ---- energy panels ----
var eFont = {family: 'DejaVu Sans', weight: 'bold', size: 10};
var eFrame = {xStep: 0.2, xMajor: 1, yStep: 2, yMajor: 10, maj: 7, mnr: 3.5, lw: 1.6};
function cat() {
  var out = [];
  for (var i = 0; i < arguments.length; i++) out = out.concat(arguments[i]);
  return out;
}
var blue = '#1f1fe8';

scatter('cMB', [383, 0, 253, 118], [442, 2, 632, 110],
  [openSet(cat(eBaseFeh, mdFeh, cyFeh, leFeh), cat(eBaseE, mdE, cyE, leE), '#000', 2.2, 1.1),
   fillSet(mbFeh, mbE, blue, 2.8),
   fillSet(n6388Feh, n6388E, '#ff0000', 3.6)],
  [-2.55, 0.55], [-30, 0],
  {frame: eFrame, font: eFont, xTicks: eTicksX, yTicks: eTicksTop, yPad: 7});

scatter('cMD', [383, 104, 253, 122], [442, 110, 632, 219],
  [openSet(cat(eBaseFeh, mbFeh, leFeh), cat(eBaseE, mbE, leE), '#000', 2.2, 1.1),
   fillSet(mdFeh, mdE, blue, 2.8),
   fillSet(cyFeh, cyE, '#33c8f0', 3.6),
   fillSet(n6388Feh, n6388E, '#ff0000', 3.6)],
  [-2.55, 0.55], [-30, 0],
  {frame: eFrame, font: eFont, xTicks: eTicksX, yTicks: eTicks, yPad: 7});

scatter('cLE', [383, 213, 253, 146], [442, 219, 632, 327],
  [openSet(cat(eBaseFeh, mbFeh, mdFeh, cyFeh), cat(eBaseE, mbE, mdE, cyE), '#000', 2.2, 1.1),
   fillSet(leFeh, leE, blue, 2.8),
   fillSet(n6441Feh, n6441E, '#000', 3.3),
   fillSet(n6388Feh, n6388E, '#ff0000', 3.6)],
  [-2.55, 0.55], [-30, 0],
  {frame: eFrame, font: eFont, xTicks: eTicksX, yTicks: eTicks, yPad: 7, xLabels: true, xPad: 3,
   xTitle: {display: true, text: '[Fe/H]', color: '#000', font: {family: 'Liberation Serif', weight: 'bold', size: 14.5}, padding: {top: 0, bottom: 0}}});

// ---- age-metallicity ----
var ageFont = {family: 'Liberation Serif', size: 14};
scatter('cAge', [17, 306, 310, 284], [61, 317, 318, 550],
  [openSet(ageFeh, ageGyr, '#000', 2.3, 1.1),
   fillSet(leAgeFeh, leAgeGyr, '#2aaadd', 2.8),
   fillSet(n6441AgeFeh, n6441Age, '#000', 3.3),
   fillSet(n6388Feh, n6388Age, '#ff0000', 3.6)],
  [-2.55, 0], [7, 14],
  {frame: {xStep: 0.1, xMajor: 0.5, yStep: 0.5, yMajor: 2, maj: 8, mnr: 4, lw: 1.2, arrow: [-0.10, 13.26, -0.36, 12.87]},
   font: ageFont, xTicks: ageTicksX, yTicks: ageTicksY, yPad: 10, xLabels: true, xPad: 0,
   yTitle: {display: true, text: 'age (Gyr)', color: '#000', font: {family: 'DejaVu Serif', size: 14}, padding: {top: 3, bottom: 0}},
   xTitle: {display: true, text: '[Fe/H]', color: '#000', font: {family: 'DejaVu Serif', size: 14}, padding: {top: 0, bottom: 6}}});

// squeeze text lines to the widths seen on the slide
document.querySelectorAll('[data-w]').forEach(function (el) {
  var n = el.getBoundingClientRect().width;
  el.style.transform = 'scaleX(' + (+el.dataset.w / n) + ')';
});
</script>
</body>
</html>
